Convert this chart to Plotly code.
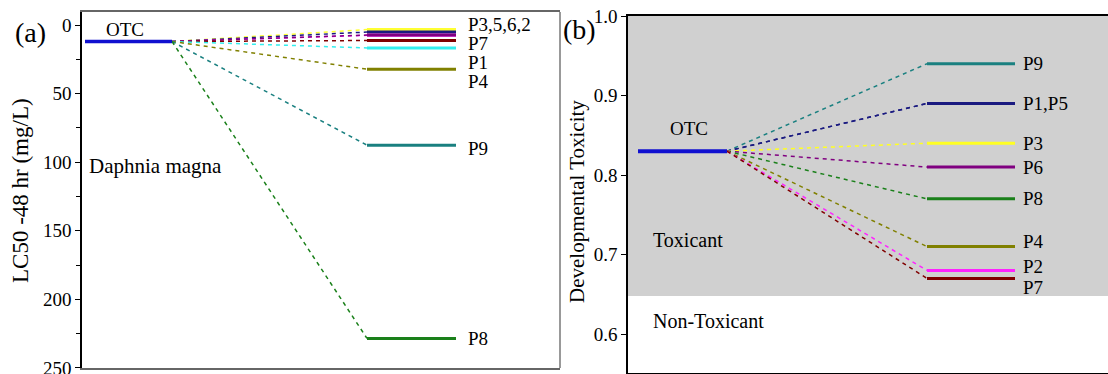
import plotly.graph_objects as go

# ---------------- data ----------------
# (a) Daphnia magna LC50-48 hr (mg/L)
otc_lc50 = 12.0
prod_a = ["P3", "P5", "P2", "P6", "P7", "P1", "P4", "P9", "P8"]
lc50_a = [3.3, 5.1, 7.5, 7.3, 11.3, 16.7, 32.2, 87.6, 228.5]
color_a = ["#ffff33", "#1a1a80", "#ff22ff", "#800080", "#800000",
           "#33eeee", "#808000", "#1a8080", "#1a801a"]
labels_a = ["P3,5,6,2", "P7", "P1", "P4", "P9", "P8"]

# (b) Developmental toxicity
otc_dev = 0.83
prod_b = ["P9", "P1", "P5", "P3", "P6", "P8", "P4", "P2", "P7"]
dev_b = [0.94, 0.89, 0.89, 0.84, 0.81, 0.77, 0.71, 0.68, 0.67]
color_b = ["#1a8080", "#1a1a80", "#1a1a80", "#ffff22", "#800080",
           "#1a801a", "#808000", "#ff22ff", "#800000"]
labels_b = ["P9", "P1,P5", "P3", "P6", "P8", "P4", "P2", "P7"]
toxic_threshold = 0.648

# ---------------- layout helpers ----------------
W, H = 1108, 374
FONT = "Liberation Serif"

def px_dom(a, b, total):
    return [a / total, b / total]

# horizontal extents (axis units) of the OTC level and the product levels
a_otc_x = [3, 90]
a_prod_x = [285, 374]
a_lab_x = 384
b_otc_x = [10, 99]
b_prod_x = [299, 387]
b_lab_x = 393

# label heights (axis units)
labels_a_y = [-0.5, 13.5, 27, 41.5, 90, 228.5]
labels_b_y = [0.94, 0.89, 0.84, 0.81, 0.77, 0.716, 0.685, 0.658]

fig = go.Figure()

def add_panel(xref, yref, otc_x, prod_x, otc_val, vals, cols, otc_w):
    for v, c in zip(vals, cols):
        fig.add_trace(go.Scatter(x=[otc_x[1], prod_x[0]], y=[otc_val, v], mode="lines",
                                 line=dict(color=c, width=1.5, dash="4px,4px"),
                                 xaxis=xref, yaxis=yref, showlegend=False, hoverinfo="skip"))
    for v, c in zip(vals, cols):
        fig.add_trace(go.Scatter(x=prod_x, y=[v, v], mode="lines",
                                 line=dict(color=c, width=3),
                                 xaxis=xref, yaxis=yref, showlegend=False, hoverinfo="skip"))
    fig.add_trace(go.Scatter(x=otc_x, y=[otc_val, otc_val], mode="lines",
                             line=dict(color="#1010d0", width=otc_w),
                             xaxis=xref, yaxis=yref, showlegend=False, hoverinfo="skip"))

add_panel("x", "y", a_otc_x, a_prod_x, otc_lc50, lc50_a, color_a, 3.5)
add_panel("x2", "y2", b_otc_x, b_prod_x, otc_dev, dev_b, color_b, 4)

ann = []
txt = dict(family=FONT, size=19, color="black")
for t, yv in zip(labels_a, labels_a_y):
    ann.append(dict(x=a_lab_x, y=yv, xref="x", yref="y", text=t, showarrow=False,
                    xanchor="left", yanchor="middle", font=txt))
for t, yv in zip(labels_b, labels_b_y):
    ann.append(dict(x=b_lab_x, y=yv, xref="x2", yref="y2", text=t, showarrow=False,
                    xanchor="left", yanchor="middle", font=txt))
ann += [
    dict(x=43, y=3.6, xref="x", yref="y", text="OTC", showarrow=False,
         xanchor="center", yanchor="middle", font=txt),
    dict(x=5, y=103, xref="x", yref="y", text="Daphnia magna", showarrow=False,
         xanchor="left", yanchor="middle", font=dict(family=FONT, size=21, color="black")),
    dict(x=61, y=0.859, xref="x2", yref="y2", text="OTC", showarrow=False,
         xanchor="center", yanchor="middle", font=txt),
    dict(x=23, y=0.718, xref="x2", yref="y2", text="Toxicant", showarrow=False,
         xanchor="left", yanchor="middle", font=dict(family=FONT, size=20, color="black")),
    dict(x=23, y=0.617, xref="x2", yref="y2", text="Non-Toxicant", showarrow=False,
         xanchor="left", yanchor="middle", font=dict(family=FONT, size=20, color="black")),
    dict(x=30 / W, y=1 - 32 / H, xref="paper", yref="paper", text="(a)", showarrow=False,
         xanchor="center", yanchor="middle", font=dict(family=FONT, size=28, color="black")),
    dict(x=579 / W, y=1 - 30 / H, xref="paper", yref="paper", text="(b)", showarrow=False,
         xanchor="center", yanchor="middle", font=dict(family=FONT, size=28, color="black")),
    dict(x=20 / W, y=1 - 191 / H, xref="paper", yref="paper", text="LC50 -48 hr (mg/L)",
         showarrow=False, textangle=-90, xanchor="center", yanchor="middle",
         font=dict(family=FONT, size=23, color="black")),
    dict(x=577 / W, y=1 - 202 / H, xref="paper", yref="paper", text="Developmental Toxicity",
         showarrow=False, textangle=-90, xanchor="center", yanchor="middle",
         font=dict(family=FONT, size=21, color="black")),
]

shapes = [
    # toxic region shading in (b)
    dict(type="rect", xref="x2 domain", yref="y2", x0=0, x1=1, y0=toxic_threshold, y1=1.0,
         fillcolor="#d0d0d0", line=dict(width=0), layer="below"),
    # right edge of frame (a)
    dict(type="line", xref="x domain", yref="y domain", x0=1, x1=1, y0=0, y1=1,
         line=dict(color="#777777", width=1.5)),
]

tickfont = dict(family=FONT, size=19, color="black")
fig.update_layout(
    width=W, height=H, margin=dict(l=0, r=0, t=0, b=0, autoexpand=False),
    paper_bgcolor="white", plot_bgcolor="white",
    annotations=ann, shapes=shapes,
    xaxis=dict(domain=px_dom(82, 560, W), range=[0, 478], showgrid=False, zeroline=False,
               showticklabels=False, ticks="", showline=True, linecolor="#666666",
               linewidth=1.5, mirror=True, fixedrange=True, automargin=False),
    yaxis=dict(domain=[1 - 368 / H, 1 - 12 / H], range=[250.05, -9.5], showgrid=False,
               zeroline=False, showline=True, linecolor="black", linewidth=1.5,
               ticks="outside", ticklen=5, tickwidth=1.2, tickcolor="black",
               tickvals=[0, 50, 100, 150, 200, 250], tickfont=tickfont,
               ticklabeloverflow="allow",
               minor=dict(tickvals=[25, 75, 125, 175, 225], ticks="outside", ticklen=4,
                          tickwidth=1.2, tickcolor="black"),
               fixedrange=True, automargin=False),
    xaxis2=dict(domain=px_dom(628, W, W), range=[0, 480], showgrid=False, zeroline=False,
                showticklabels=False, ticks="", showline=True, linecolor="black",
                linewidth=1.5, mirror=True, anchor="y2", fixedrange=True, automargin=False),
    yaxis2=dict(domain=[1 - 373 / H, 1 - 16 / H], range=[0.551, 1.0], showgrid=False,
                zeroline=False, showline=True, linecolor="black", linewidth=1.5,
                ticks="outside", ticklen=5, tickwidth=1.2, tickcolor="black",
                tickvals=[0.6, 0.7, 0.8, 0.9, 1.0], tickformat=".1f", tickfont=tickfont,
                ticklabeloverflow="allow",
                anchor="x2", fixedrange=True, automargin=False),
)

fig.write_html("out.html")
